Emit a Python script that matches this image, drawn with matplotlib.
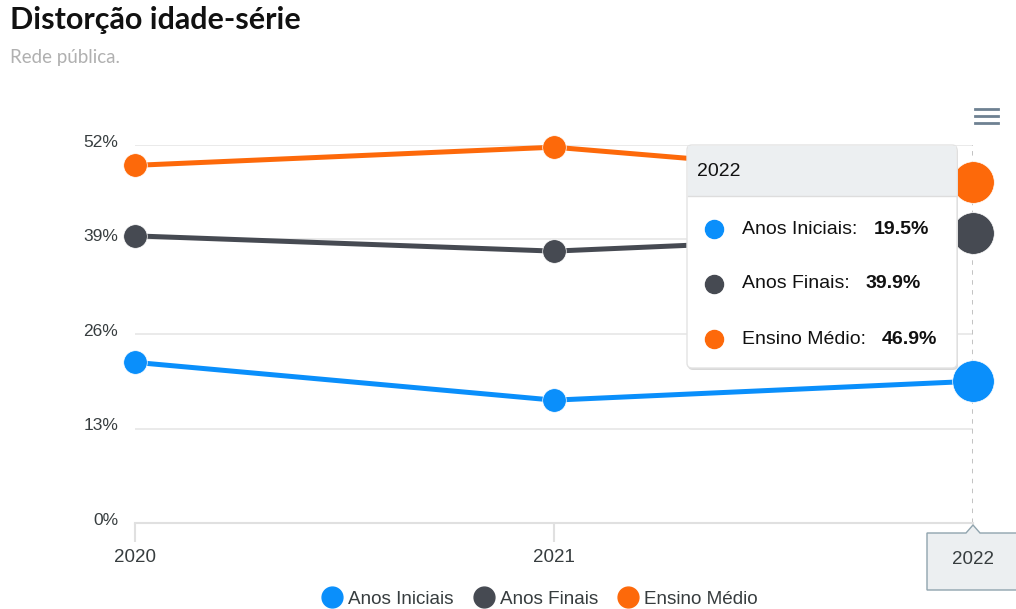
import matplotlib.pyplot as plt
from matplotlib.patches import FancyBboxPatch, Rectangle, Polygon
from matplotlib.lines import Line2D
from matplotlib.transforms import offset_copy

# dados
anos = [2020, 2021, 2022]
series = ['Anos Iniciais', 'Anos Finais', 'Ensino Médio']
anos_iniciais = [22.1, 16.9, 19.5]
anos_finais = [39.5, 37.4, 39.9]
ensino_medio = [49.2, 51.7, 46.9]
cores = ['#0a8ffb', '#464a52', '#fd690a']
yticks = [0, 13, 26, 39, 52]

plt.rcParams['font.family'] = ['Liberation Sans', 'DejaVu Sans']

W, H = 1016, 609
fig = plt.figure(figsize=(W / 100, H / 100), dpi=100)
ax = fig.add_axes([135 / W, (H - 523) / H, (973 - 135) / W, (523 - 145) / H])


def px(x, y):
    # pixel (a partir do topo) -> polegadas da figura
    return x / 100, (H - y) / 100


valores = [anos_iniciais, anos_finais, ensino_medio]
for vals, cor, nome in zip(valores, cores, series):
    ax.plot(anos, vals, color=cor, lw=3.6, solid_capstyle='round', zorder=3)
    ax.plot(anos[:-1], vals[:-1], 'o', color=cor, ms=17, mec='white', mew=0.5,
            clip_on=False, zorder=4)
    ax.plot(anos[-1:], vals[-1:], 'o', color=cor, ms=30, mec='white', mew=0.5,
            clip_on=False, zorder=4)

ax.set_xlim(2020, 2022)
ax.set_ylim(0, 52)
ax.set_xticks(anos)
ax.set_xticklabels(['2020', '2021', ''])
ax.set_yticks(yticks)
ax.set_yticklabels([f'{v}%' for v in yticks])
ax.grid(axis='y', color='#e6e6e6', lw=1.2)
ax.set_axisbelow(True)
for s in ['top', 'right', 'left']:
    ax.spines[s].set_visible(False)
ax.spines['bottom'].set_color('#e0e0e0')
ax.spines['bottom'].set_linewidth(1.5)
ax.tick_params(axis='y', length=0, pad=12, labelsize=12.5, labelcolor='#373d3f')
ax.tick_params(axis='x', length=14, color='#e0e0e0', width=1.5, pad=5,
               labelsize=13.5, labelcolor='#373d3f')
for lb in ax.get_yticklabels():
    lb.set_transform(offset_copy(lb.get_transform(), fig=fig, x=0, y=4, units='dots'))

# linha vertical do cursor
ax.axvline(2022, color='#bdbdbd', lw=1.3, ls=(0, (2.5, 3)), zorder=1)

# titulo
fig.text(10 / W, 1 - 20 / H, 'Distorção idade-série', fontsize=22, fontweight='bold',
         family=['Lato', 'DejaVu Sans'], color='#111111', va='center')
fig.text(10 / W, 1 - 57 / H, 'Rede pública.', fontsize=13.5,
         family=['Lato', 'DejaVu Sans'], color='#b0b0b0', va='center')

# menu
for yy in [109, 116, 123]:
    fig.add_artist(Line2D([975 / W, 998 / W], [1 - yy / H, 1 - yy / H],
                          color='#6e8192', lw=2))

tr = fig.dpi_scale_trans

# rotulo do eixo x em destaque
xd = ax.transData.transform((2022, 0))[0]
caixa = Polygon([px(927, 590), px(927, 533), px(xd - 7, 533), px(xd, 525),
                 px(xd + 7, 533), px(1030, 533), px(1030, 590)],
                closed=True, transform=tr, fc='#eceff1', ec='#90a4ae', lw=1,
                zorder=10, clip_on=False)
fig.add_artist(caixa)
fig.text(xd / W, 1 - 559 / H, '2022', fontsize=13.5, color='#373d3f',
         ha='center', va='center', zorder=11)

# tooltip
x0, y0, x1, y1 = 687, 145, 957, 368
sombra = FancyBboxPatch(px(x0 + 1, y1 + 2), (x1 - x0) / 100, (y1 - y0) / 100,
                        boxstyle='round,pad=0,rounding_size=0.05', transform=tr,
                        fc='#d8d8d8', ec='none', zorder=11)
fig.add_artist(sombra)
corpo = FancyBboxPatch(px(x0, y1), (x1 - x0) / 100, (y1 - y0) / 100,
                       boxstyle='round,pad=0,rounding_size=0.05', transform=tr,
                       fc='white', ec='#e3e3e3', lw=1, zorder=12)
fig.add_artist(corpo)
cab = Rectangle(px(x0 + 1, 196), (x1 - x0 - 2) / 100, (196 - y0 - 1) / 100,
                transform=tr, fc='#eceff1', ec='none', zorder=13)
fig.add_artist(cab)
fig.add_artist(Line2D([(x0 + 1) / W, (x1 - 1) / W], [1 - 196 / H, 1 - 196 / H],
                      color='#dddddd', lw=1, zorder=13))
fig.text(697 / W, 1 - 171 / H, '2022', fontsize=14, color='#111111',
         va='center', zorder=14)

renderer = fig.canvas.get_renderer()
for i, (nome, cor, vals) in enumerate(zip(series, cores, valores)):
    yy = 229 + i * 55
    fig.add_artist(Line2D([714 / W], [1 - yy / H], marker='o', ms=13, color=cor,
                          ls='none', zorder=14))
    t = fig.text(742 / W, 1 - yy / H, f'{nome}:', fontsize=14, color='#111111',
                 va='center', zorder=14)
    bb = t.get_window_extent(renderer)
    fig.text((bb.x1 + 16) / W, 1 - yy / H, f'{vals[-1]}%', fontsize=14,
             fontweight='bold', color='#111111', va='center', zorder=14)

# legenda
handles = [Line2D([], [], marker='o', ls='none', color=c, ms=15) for c in cores]
fig.legend(handles, series, loc='center', bbox_to_anchor=(0.527, 1 - 599 / H),
           ncol=3, frameon=False, fontsize=13.6, handletextpad=-0.15,
           columnspacing=0.6, labelcolor='#373d3f')

fig.savefig('out.png', dpi=100)
